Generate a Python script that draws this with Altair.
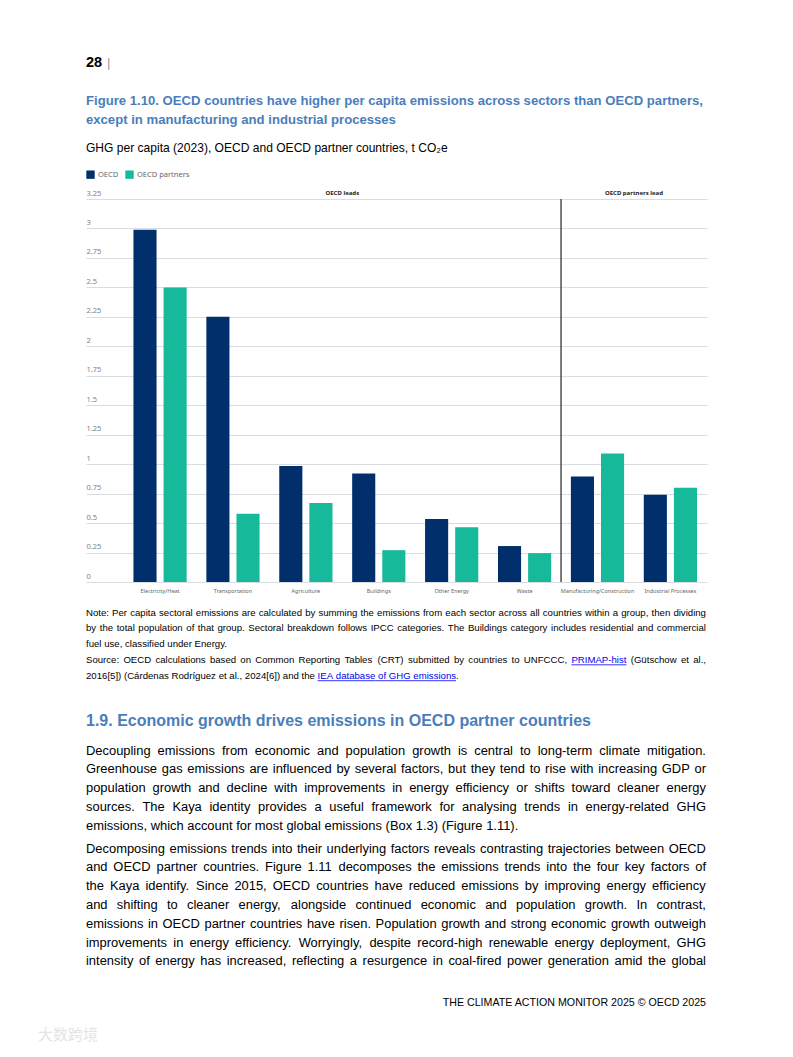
import altair as alt
import pandas as pd

# ---------------- data ----------------
sectors = ["Electricity/Heat", "Transportation", "Agriculture", "Buildings",
           "Other Energy", "Waste", "Manufacturing/Construction", "Industrial Processes"]
oecd = [2.99, 2.25, 0.985, 0.92, 0.535, 0.305, 0.895, 0.74]
partners = [2.50, 0.58, 0.67, 0.27, 0.465, 0.245, 1.09, 0.80]
groups = ["OECD", "OECD partners"]
group_colors = ["#002F6C", "#17B99B"]
y_ticks = [0, 0.25, 0.5, 0.75, 1, 1.25, 1.5, 1.75, 2, 2.25, 2.5, 2.75, 3, 3.25]
zones = ["OECD leads", "OECD partners lead"]
zone_anchor = ["Agriculture", "Manufacturing/Construction"]
divider_after = ["Waste"]

rows = []
for s, a, b in zip(sectors, oecd, partners):
    rows.append({"sector": s, "group": groups[0], "value": a})
    rows.append({"sector": s, "group": groups[1], "value": b})
df = pd.DataFrame(rows)

# ---------------- page text ----------------
title_lines = ["Figure 1.10. OECD countries have higher per capita emissions across sectors than OECD partners,",
               "except in manufacturing and industrial processes"]
subtitle_line = "GHG per capita (2023), OECD and OECD partner countries, t CO\u2082e"
note_lines = ["Note: Per capita sectoral emissions are calculated by summing the emissions from each sector across all countries within a group, then dividing",
              "by the total population of that group. Sectoral breakdown follows IPCC categories. The Buildings category includes residential and commercial",
              "fuel use, classified under Energy.",
              "Source: OECD calculations based on Common Reporting Tables (CRT) submitted by countries to UNFCCC, {PRIMAP-hist} (G\u00fctschow et al.,",
              "2016[5]) (C\u00e1rdenas Rodr\u00edguez et al., 2024[6]) and the {IEA database of GHG emissions}|."]
note_justify = [True, True, False, True, False]
heading_line = "1.9. Economic growth drives emissions in OECD partner countries"
para1_lines = ["Decoupling emissions from economic and population growth is central to long-term climate mitigation.",
               "Greenhouse gas emissions are influenced by several factors, but they tend to rise with increasing GDP or",
               "population growth and decline with improvements in energy efficiency or shifts toward cleaner energy",
               "sources. The Kaya identity provides a useful framework for analysing trends in energy-related GHG",
               "emissions, which account for most global emissions (Box 1.3) (Figure 1.11)."]
para1_justify = [True, True, True, True, False]
para2_lines = ["Decomposing emissions trends into their underlying factors reveals contrasting trajectories between OECD",
               "and OECD partner countries. Figure 1.11 decomposes the emissions trends into the four key factors of",
               "the Kaya identify. Since 2015, OECD countries have reduced emissions by improving energy efficiency",
               "and shifting to cleaner energy, alongside continued economic and population growth. In contrast,",
               "emissions in OECD partner countries have risen. Population growth and strong economic growth outweigh",
               "improvements in energy efficiency. Worryingly, despite record-high renewable energy deployment, GHG",
               "intensity of energy has increased, reflecting a resurgence in coal-fired power generation amid the global"]
para2_justify = [True] * 7
footer_line = "THE CLIMATE ACTION MONITOR 2025 \u00a9 OECD 2025"
watermark_line = "\u5927\u6570\u8de8\u5883"

# ---------------- layout ----------------
W, H = 621, 383          # plot area
X0, Y0 = 86, 199         # page position of plot origin
LEFT, RIGHT = 86, 706    # text column
ARIAL = "Liberation Sans, Arial"
BLUE = "#4A7EBB"
LINK = "#0000EE"
HALF_GAP = 9.85

# Arial / Liberation Sans advance widths (1/1000 em)
REG = {' ': 278, '!': 278, '"': 355, '#': 556, '$': 556, '%': 889, '&': 667, "'": 191, '(': 333, ')': 333,
       '*': 389, '+': 584, ',': 278, '-': 333, '.': 278, '/': 278, ':': 278, ';': 278, '?': 556,
       '[': 278, ']': 278, '|': 260, '\u00a9': 737, '\u00fc': 556, '\u00e1': 556, '\u00ed': 278, '\u2082': 333}
for ch in "0123456789":
    REG[ch] = 556
REG.update(dict(zip("ABCDEFGHIJKLMNOPQRSTUVWXYZ",
                    [667, 667, 722, 722, 667, 611, 778, 722, 278, 500, 667, 556, 833, 722, 778, 667, 778, 722,
                     667, 611, 722, 667, 944, 667, 667, 611])))
REG.update(dict(zip("abcdefghijklmnopqrstuvwxyz",
                    [556, 556, 500, 556, 556, 278, 556, 556, 222, 222, 500, 222, 833, 556, 556, 556, 556, 333,
                     500, 278, 556, 500, 722, 500, 500, 500])))
BOLD = {' ': 278, '!': 333, ',': 278, '-': 333, '.': 278, '/': 278, '(': 333, ')': 333, ':': 333}
for ch in "0123456789":
    BOLD[ch] = 556
BOLD.update(dict(zip("ABCDEFGHIJKLMNOPQRSTUVWXYZ",
                     [722, 722, 722, 722, 667, 611, 778, 722, 278, 556, 722, 611, 833, 722, 778, 667, 778, 722,
                      667, 611, 722, 667, 944, 667, 667, 611])))
BOLD.update(dict(zip("abcdefghijklmnopqrstuvwxyz",
                     [556, 611, 556, 611, 556, 333, 611, 611, 278, 278, 556, 278, 889, 611, 611, 611, 611, 389,
                      556, 333, 611, 556, 778, 556, 556, 500])))


def units(s, bold=False):
    t = BOLD if bold else REG
    return sum(t.get(c, 556) for c in s)


def tokens(line):
    """split a line into (word, is_link, space_before) tokens; {..} marks links, | glues without space"""
    out = []
    link = False
    for part in line.split(" "):
        glue_parts = part.split("|")
        for gi, gp in enumerate(glue_parts):
            w = gp
            if w.startswith("{"):
                link = True
                w = w[1:]
            ends = w.endswith("}")
            if ends:
                w = w[:-1]
            out.append((w, link, gi == 0 and len(out) > 0))
            if ends:
                link = False
    return out


def plain(line):
    return line.replace("{", "").replace("}", "").replace("|", "")


def layout(lines, y0, lh, size, justify, bold=False, color="#000", width=RIGHT - LEFT):
    words, ulines = [], []
    space = (BOLD if bold else REG)[' '] * size / 1000
    for i, line in enumerate(lines):
        toks = tokens(line)
        ws = [units(w, bold) * size / 1000 for w, _, _ in toks]
        nsp = sum(1 for _, _, sp in toks if sp)
        gap = space
        if justify[i] and nsp > 0:
            gap = (width - sum(ws)) / nsp
        x = LEFT
        y = y0 + i * lh
        prev_link_end = None
        for (w, lk, sp), wd in zip(toks, ws):
            if sp:
                x += gap
            words.append({"w": w, "x": x - X0, "y": y - Y0, "c": LINK if lk else color})
            if lk:
                start = prev_link_end if prev_link_end is not None else x
                ulines.append({"x": start - X0, "x2": x + wd - X0, "y": y + 1.6 - Y0})
                prev_link_end = x + wd
            else:
                prev_link_end = None
            x += wd
    return words, ulines


def word_layer(words, size, bold=False, font=ARIAL):
    return alt.Chart(pd.DataFrame(words)).mark_text(
        font=font, fontSize=size, fontWeight="bold" if bold else "normal",
        align="left", baseline="alphabetic",
    ).encode(
        x=alt.X("x:Q", scale=None, axis=None),
        y=alt.Y("y:Q", scale=None, axis=None),
        text="w:N",
        color=alt.Color("c:N", scale=None, legend=None),
    )


# font sizes derived from the reference text extents
col = RIGHT - LEFT
title_size = (703 - LEFT) / units(title_lines[0], True) * 1000
subtitle_size = (447 - LEFT) / units(subtitle_line) * 1000
note_size = min((233 - LEFT) / units(note_lines[2]) * 1000,
                0.985 * col / units(plain(note_lines[0])) * 1000)
heading_size = (591 - LEFT) / units(heading_line, True) * 1000
just_lines = [l for l, j in zip(para1_lines + para2_lines, para1_justify + para2_justify) if j]
para_size = 0.985 * col / max(units(l) for l in just_lines) * 1000
footer_size = (RIGHT - 441) / units(footer_line) * 1000

t_words, _ = layout(title_lines, 105, 19, title_size, [False, False], bold=True, color=BLUE)
s_words, _ = layout([subtitle_line], 152, 0, subtitle_size, [False])
n_words, n_ul = layout(note_lines, 615.5, 15.9, note_size, note_justify)
h_words, _ = layout([heading_line], 725.5, 0, heading_size, [False], bold=True, color=BLUE)
p1_words, _ = layout(para1_lines, 754.5, 18.75, para_size, para1_justify)
p2_words, _ = layout(para2_lines, 852.5, 18.8, para_size, para2_justify)

# ---------------- chart ----------------
xscale = alt.Scale(domain=sectors, paddingInner=0.27, paddingOuter=0.394, align=0.826)
yscale = alt.Scale(domain=[0, 3.25], nice=False)
xaxis = alt.Axis(title=None, labelFontSize=5.5, labelColor="#666", labelFont="Noto Sans",
                 ticks=False, domain=False, labelPadding=6, labelAngle=0, grid=False, labelOverlap=False)
yaxis = alt.Axis(title=None, values=y_ticks, labelExpr="'' + datum.value", labelAlign="left",
                 labelBaseline="bottom", labelOffset=-2, labelPadding=0, ticks=False,
                 tickSize=0, domain=False, labelFontSize=7.5, labelColor="#808080",
                 labelFont="Noto Sans", gridColor="#D9DCE1", gridWidth=1, labelOverlap=False)

bars = alt.Chart(df).mark_bar().encode(
    x=alt.X("sector:N", sort=sectors, scale=xscale, axis=xaxis),
    xOffset=alt.XOffset("group:N", sort=groups,
                        scale=alt.Scale(domain=groups, paddingInner=0.233, paddingOuter=0)),
    y=alt.Y("value:Q", scale=yscale, axis=yaxis),
    color=alt.Color("group:N", sort=groups,
                    scale=alt.Scale(domain=groups, range=group_colors),
                    legend=alt.Legend(title=None, orient="none", legendX=0, legendY=-29,
                                      direction="horizontal", symbolType="square", symbolSize=70,
                                      symbolStrokeWidth=0, labelFontSize=7.5, labelColor="#666",
                                      labelFont="Noto Sans", columnPadding=6, labelOffset=3)),
)

divider = alt.Chart(pd.DataFrame({"sector": divider_after})).mark_rule(
    color="#333", strokeWidth=1.3, xOffset=HALF_GAP).encode(
    x=alt.X("sector:N", scale=xscale, bandPosition=1, axis=xaxis),
    y=alt.value(0), y2=alt.value(H),
)

zone_text = alt.Chart(pd.DataFrame({"zone": zones, "sector": zone_anchor, "value": [3.25, 3.25]})).mark_text(
    fontSize=6, fontWeight="bold", font="Noto Sans", color="#222", baseline="bottom", dy=-3,
    dx=HALF_GAP
).encode(
    x=alt.X("sector:N", scale=xscale, bandPosition=1, axis=xaxis),
    y=alt.Y("value:Q", scale=yscale, axis=yaxis),
    text="zone:N",
)


def txt(text, x, y, size, color="#000", font=ARIAL, weight="normal", align="left"):
    return alt.Chart(pd.DataFrame({"k": [0]})).mark_text(
        text=text, font=font, fontSize=size, fontWeight=weight, color=color, align=align,
        baseline="alphabetic",
    ).encode(x=alt.value(x - X0), y=alt.value(y - Y0))


page_no = txt("28", 86, 67, 14.5, weight="bold")
page_bar = txt("|", 107, 67, 13, color="#999")
footer = txt(footer_line, RIGHT, 1006, footer_size, align="right")
watermark = txt(watermark_line, 38, 1040, 15, color="#E4E4E4", font="Noto Sans CJK SC")

underlines = alt.Chart(pd.DataFrame(n_ul)).mark_rule(color=LINK, strokeWidth=0.8).encode(
    x=alt.X("x:Q", scale=None, axis=None), x2="x2:Q",
    y=alt.Y("y:Q", scale=None, axis=None),
)

chart = alt.layer(
    bars, divider, zone_text,
    page_no, page_bar,
    word_layer(t_words, title_size, bold=True),
    word_layer(s_words, subtitle_size),
    word_layer(n_words, note_size),
    underlines,
    word_layer(h_words, heading_size, bold=True),
    word_layer(p1_words, para_size),
    word_layer(p2_words, para_size),
    footer, watermark,
).properties(
    width=W, height=H,
    padding={"left": X0 - 8, "top": Y0 - 8, "right": 793 - 8 - X0 - W - 8, "bottom": 1049 - Y0 - H},
    autosize=alt.AutoSizeParams(type="none"),
    background="white",
).configure_view(strokeWidth=0)

chart.save("out.html", embed_options={"renderer": "svg", "actions": False})
